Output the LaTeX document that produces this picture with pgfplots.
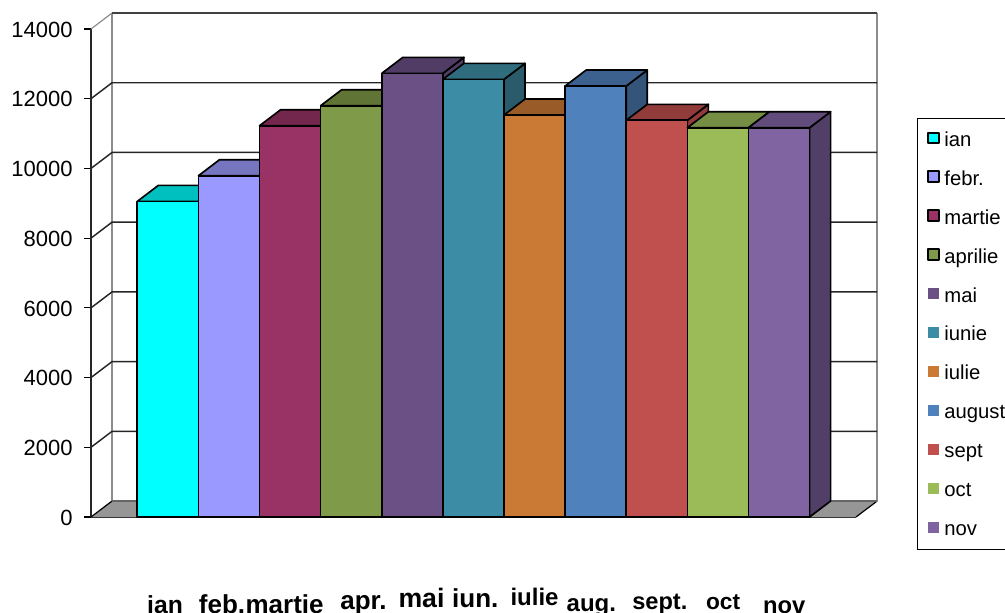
\documentclass[border=0pt]{standalone}
\usepackage{fontspec}
\setmainfont{Liberation Sans}
\usepackage{pgfplots}
\pgfplotsset{compat=1.18}

% bar colours: front, top, side
\definecolor{c1}{HTML}{00FFFF}\definecolor{t1}{HTML}{00BFBF}\definecolor{s1}{HTML}{00BFBF}
\definecolor{c2}{HTML}{9999FF}\definecolor{t2}{HTML}{7575C0}\definecolor{s2}{HTML}{7575C0}
\definecolor{c3}{HTML}{993366}\definecolor{t3}{HTML}{74274D}\definecolor{s3}{HTML}{74274D}
\definecolor{c4}{HTML}{7F9A48}\definecolor{t4}{HTML}{607436}\definecolor{s4}{HTML}{607436}
\definecolor{c5}{HTML}{6B5085}\definecolor{t5}{HTML}{503C64}\definecolor{s5}{HTML}{503C64}
\definecolor{c6}{HTML}{3C8CA5}\definecolor{t6}{HTML}{2F6C7E}\definecolor{s6}{HTML}{295B6B}
\definecolor{c7}{HTML}{CB7A36}\definecolor{t7}{HTML}{995C29}\definecolor{s7}{HTML}{995C29}
\definecolor{c8}{HTML}{4F81BD}\definecolor{t8}{HTML}{3C618F}\definecolor{s8}{HTML}{345579}
\definecolor{c9}{HTML}{C0504D}\definecolor{t9}{HTML}{913C3A}\definecolor{s9}{HTML}{913C3A}
\definecolor{c10}{HTML}{9BBB59}\definecolor{t10}{HTML}{758E43}\definecolor{s10}{HTML}{758E43}
\definecolor{c11}{HTML}{8064A2}\definecolor{t11}{HTML}{614C7B}\definecolor{s11}{HTML}{523F68}

% 1 reference pixel = 0.75pt; depth of the box: 21px across, 16px up
\newcommand{\dx}{0.344}
\newcommand{\dy}{458}

% \threedbar{left x}{value}{colour no.}{legend image style}
\newcommand{\threedbar}[4]{%
  \pgfmathsetmacro{\xr}{#1+1}%
  \pgfmathsetmacro{\xrb}{#1+1+\dx}%
  \pgfmathsetmacro{\xlb}{#1+\dx}%
  \pgfmathsetmacro{\yt}{#2+\dy}%
  \edef\temp{%
    \noexpand\addplot[forget plot, fill=s#3, draw=black, line width=1.25pt, line join=round]
      coordinates {(\xr,0) (\xrb,\dy) (\xrb,\yt) (\xr,#2)} --cycle;
    \noexpand\addplot[forget plot, fill=t#3, draw=black, line width=1.25pt, line join=round]
      coordinates {(#1,#2) (\xlb,\yt) (\xrb,\yt) (\xr,#2)} --cycle;
    \noexpand\addplot[fill=c#3, draw=black, line width=1.25pt, line join=round, #4]
      coordinates {(#1,0) (\xr,0) (\xr,#2) (#1,#2)} --cycle;
  }\temp
}
% horizontal wall line with its slanted part on the left side wall
\newcommand{\wallline}[2]{%
  \addplot[forget plot, color=black!85, line width=1.1pt] coordinates {(-0.758,#1) (-0.414,#2) (12.106,#2)};
}
% tick label of its own size, raised from the common baseline
\newcommand{\lab}[3]{\raisebox{#1}{\fontsize{#2}{21}\selectfont #3}}

% the empty path keeps the room between key and text
\pgfplotsset{
  boxedkey/.style={legend image code/.code={\path[##1, line width=1.5pt] (0pt,-3pt) rectangle (8.5pt,5pt); \path (11.8pt,0pt);}},
  plainkey/.style={legend image code/.code={\path[##1, draw=none] (0pt,-3pt) rectangle (8.5pt,5pt); \path (11.8pt,0pt);}},
}

\begin{document}
\begin{tikzpicture}
\useasboundingbox (0,0) rectangle (753.75pt,459pt);
\begin{axis}[
  at={(68.25pt,71.25pt)}, anchor=south west,
  scale only axis, width=573.75pt, height=366pt,
  xmin=-0.758, xmax=11.76, ymin=0, ymax=14000,
  clip=false,
  axis x line*=bottom, axis y line*=left,
  axis line style={line width=1.2pt, black!85},
  ytick={0,2000,...,14000},
  tick align=outside,
  major tick length=5.25pt,
  y tick style={black, line width=0.9pt},
  x tick style={draw=none},
  /pgf/number format/assume math mode=true,
  /pgf/number format/1000 sep={},
  yticklabel style={font=\fontsize{16.5}{18}\selectfont, xshift=-5pt, yshift=-0.5pt},
  scaled y ticks=false,
  xtick={0.453,1.386,2.41,3.70,4.65,5.53,6.50,7.43,8.55,9.585,10.585},
  xticklabels={\lab{0pt}{18.5}{ian},\lab{0pt}{19.5}{feb.},\lab{0pt}{19.5}{martie},
    \lab{3.2pt}{19.5}{apr.},\lab{4.7pt}{20}{mai},\lab{4.7pt}{19.5}{iun.},\lab{5.8pt}{18}{iulie},
    \lab{1.5pt}{18}{aug.},\lab{2.8pt}{17.7}{sept.},\lab{2.8pt}{17}{oct},\lab{0pt}{17.8}{nov}},
  xticklabel style={font=\bfseries, anchor=base, yshift=-67.25pt},
  legend style={
    at={(1.0797,0.8176)}, anchor=north west,
    draw=black, line width=0.8pt,
    font=\fontsize{15.2}{17}\selectfont,
    row sep=12.2pt, inner xsep=7pt, inner ysep=7pt,
    nodes={inner sep=0pt, text height=13.8pt, text depth=3.2pt},
    legend cell align=left,
  },
]
% floor of the box
\addplot[forget plot, fill=black!41, draw=none] coordinates {(-0.758,0) (-0.414,\dy) (12.106,\dy) (11.76,0)} --cycle;
\addplot[forget plot, draw=black, line width=0.9pt] coordinates {(-0.758,0) (-0.414,\dy)};
\addplot[forget plot, draw=black, line width=0.9pt] coordinates {(11.76,0) (12.106,\dy)};
% walls
\addplot[forget plot, draw=black!45, line width=1.3pt] coordinates {(-0.414,\dy) (-0.414,14458)};
\addplot[forget plot, draw=black!45, line width=1.3pt] coordinates {(12.106,\dy) (12.106,14458)};
\addplot[forget plot, draw=black!45, line width=0.9pt] coordinates {(-0.758,14000) (-0.414,14458)};
\addplot[forget plot, draw=black!75, line width=1.1pt] coordinates {(-0.414,14458) (12.106,14458)};
\addplot[forget plot, draw=black!60, line width=0.9pt] coordinates {(-0.414,\dy) (12.106,\dy)};
\wallline{2000}{2458}
\wallline{4000}{4458}
\wallline{6000}{6458}
\wallline{8000}{8458}
\wallline{10000}{10458}
\wallline{12000}{12458}
% bars, left to right
\threedbar{0}{9056}{1}{boxedkey}
\threedbar{1}{9791}{2}{boxedkey}
\threedbar{2}{11225}{3}{boxedkey}
\threedbar{3}{11800}{4}{boxedkey}
\threedbar{4}{12728}{5}{plainkey}
\threedbar{5}{12556}{6}{plainkey}
\threedbar{6}{11532}{7}{plainkey}
\threedbar{7}{12364}{8}{plainkey}
\threedbar{8}{11380}{9}{plainkey}
\threedbar{9}{11168}{10}{plainkey}
\threedbar{10}{11168}{11}{plainkey}
\legend{ian,febr.,martie,aprilie,mai,iunie,iulie,august,sept,oct,nov}
\end{axis}
\end{tikzpicture}
\end{document}
